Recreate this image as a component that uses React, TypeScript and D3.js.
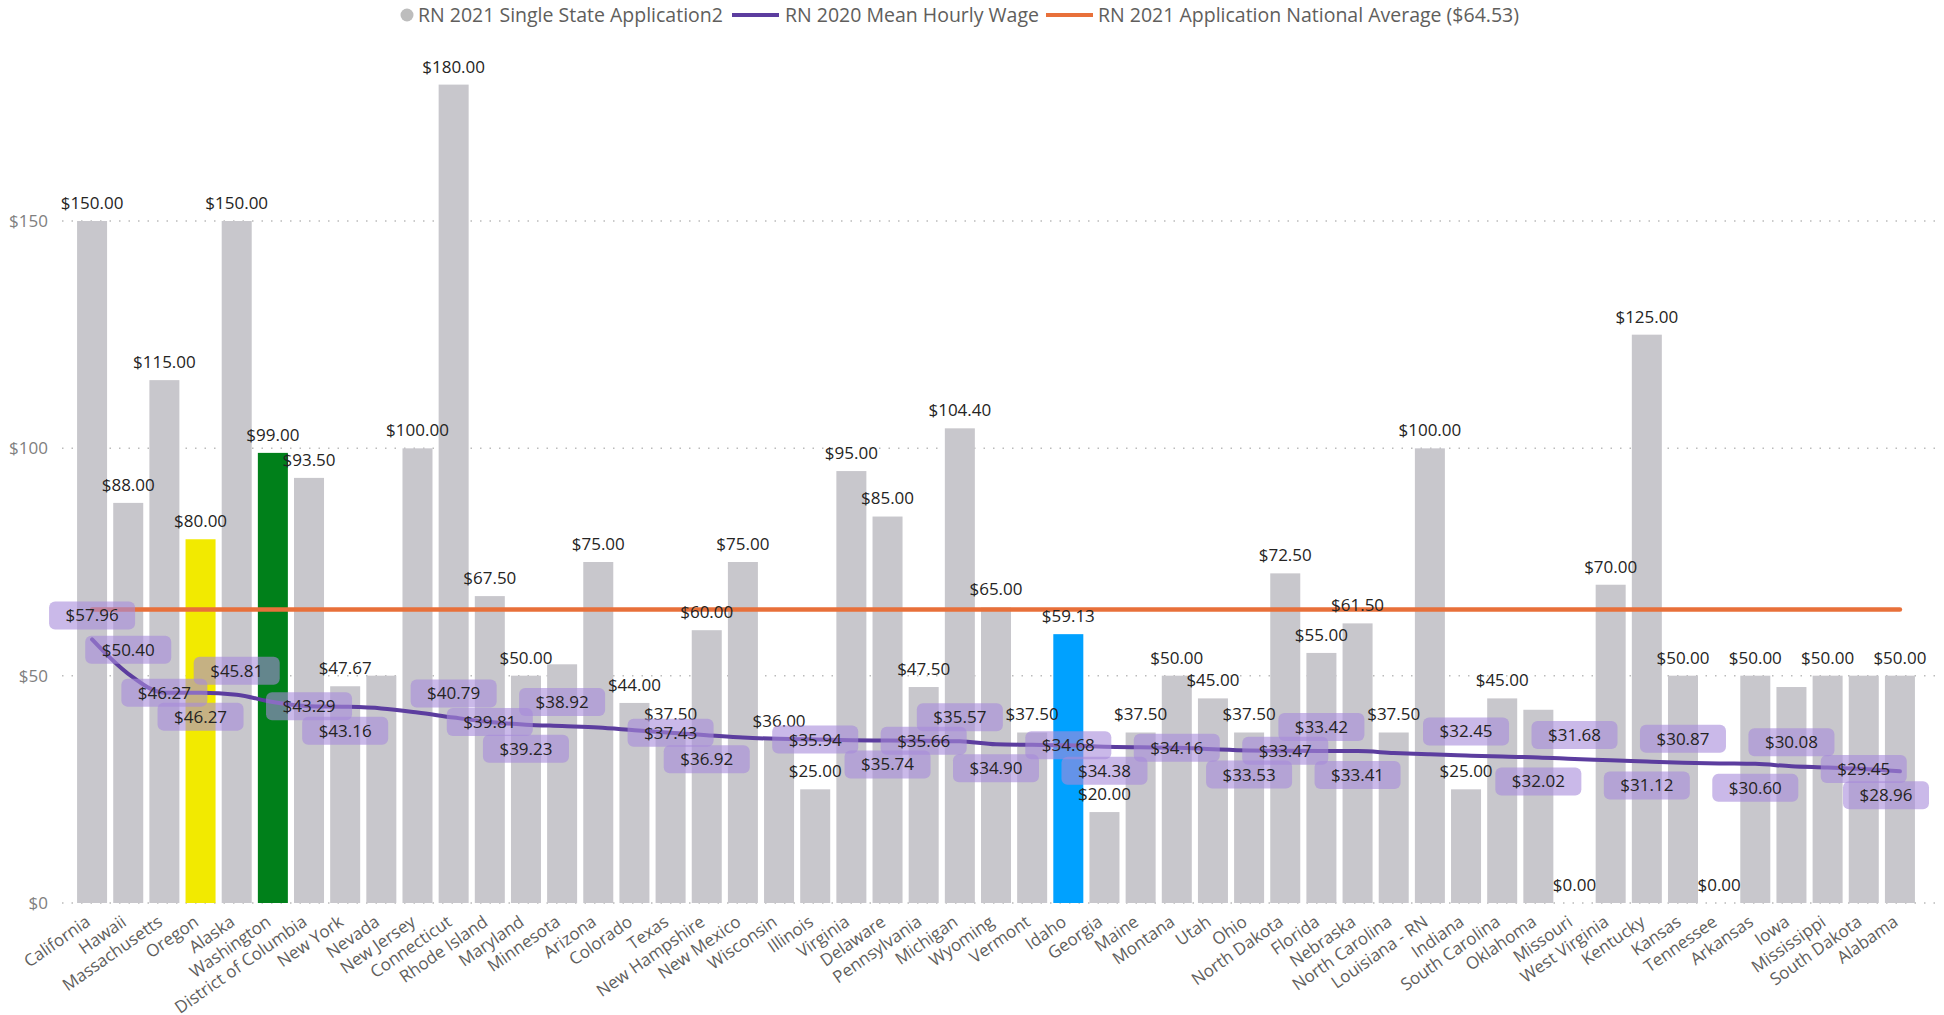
import React from 'react';
import * as d3 from 'd3';

// states, in the chart's order (sorted by 2020 mean hourly wage)
const states = [
  'California', 'Hawaii', 'Massachusetts', 'Oregon', 'Alaska', 'Washington', 'District of Columbia',
  'New York', 'Nevada', 'New Jersey', 'Connecticut', 'Rhode Island', 'Maryland', 'Minnesota',
  'Arizona', 'Colorado', 'Texas', 'New Hampshire', 'New Mexico', 'Wisconsin', 'Illinois',
  'Virginia', 'Delaware', 'Pennsylvania', 'Michigan', 'Wyoming', 'Vermont', 'Idaho', 'Georgia',
  'Maine', 'Montana', 'Utah', 'Ohio', 'North Dakota', 'Florida', 'Nebraska', 'North Carolina',
  'Louisiana - RN', 'Indiana', 'South Carolina', 'Oklahoma', 'Missouri', 'West Virginia',
  'Kentucky', 'Kansas', 'Tennessee', 'Arkansas', 'Iowa', 'Mississippi', 'South Dakota', 'Alabama',
];

// RN 2021 Single State Application2
const applicationFee = [
  150, 88, 115, 80, 150, 99, 93.5,
  47.67, 50, 100, 180, 67.5, 50, 52.5,
  75, 44, 37.5, 60, 75, 36, 25,
  95, 85, 47.5, 104.4, 65, 37.5, 59.13, 20,
  37.5, 50, 45, 37.5, 72.5, 55, 61.5, 37.5,
  100, 25, 45, 42.5, 0, 70,
  125, 50, 0, 50, 47.5, 50, 50, 50,
];

// RN 2020 Mean Hourly Wage
const meanWage = [
  57.96, 50.4, 46.27, 46.27, 45.81, 44.2, 43.29,
  43.16, 42.8, 41.9, 40.79, 39.81, 39.23, 38.92,
  38.6, 38.0, 37.43, 36.92, 36.4, 36.1, 35.94,
  35.8, 35.74, 35.66, 35.57, 34.9, 34.8, 34.68, 34.38,
  34.25, 34.16, 33.8, 33.53, 33.47, 33.42, 33.41, 33.0,
  32.7, 32.45, 32.2, 32.02, 31.68, 31.4,
  31.12, 30.87, 30.7, 30.6, 30.08, 29.8, 29.45, 28.96,
];

const nationalAverage = 64.53;
const yTicks = [0, 50, 100, 150];

const legendItems = [
  'RN 2021 Single State Application2',
  'RN 2020 Mean Hourly Wage',
  `RN 2021 Application National Average ($${nationalAverage})`,
];

// layout / styling
const barColors: Record<string, string> = { Oregon: '#F2EA00', Washington: '#00801A', Idaho: '#00A1FF' };
const hiddenFeeLabels = new Set(['Nevada', 'Minnesota', 'Oklahoma', 'Iowa', 'South Dakota']);
const wageLabelSlot: Record<string, number> = {
  California: -1, Hawaii: -1, Massachusetts: 0, Oregon: 1, Alaska: -1, 'District of Columbia': 0,
  'New York': 1, Connecticut: -1, 'Rhode Island': 0, Maryland: 1, Minnesota: -1, Texas: 0,
  'New Hampshire': 1, Illinois: 0, Delaware: 1, Pennsylvania: 0, Michigan: -1, Wyoming: 1,
  Idaho: 0, Georgia: 1, Montana: 0, Ohio: 1, 'North Dakota': 0, Florida: -1, Nebraska: 1,
  Indiana: -1, Oklahoma: 1, Missouri: -1, Kentucky: 1, Kansas: -1, Arkansas: 1, Iowa: -1,
  'South Dakota': 0, Alabama: 1,
};

const W = 1944, H = 1015;
const FONT = "'Segoe UI', 'Open Sans', sans-serif";
const GRAY = '#C8C7CC';
const PURPLE = '#5C3D9F';
const ORANGE = '#E8703A';
const TEXT = '#252423';

export default function App() {
  const x = d3.scaleBand().domain(states).range([74, 1918]).paddingInner(0.17).paddingOuter(0.085);
  const y = d3.scaleLinear().domain([0, 150]).range([903, 221]);
  const cx = (s: string) => (x(s) as number) + x.bandwidth() / 2;
  const money = d3.format('$,.2f');
  const tickFmt = d3.format('$,.0f');

  const wageLine = d3.line<number>()
    .x((_, i) => cx(states[i]))
    .y(d => y(d))
    .curve(d3.curveMonotoneX);

  const boxW = 86, boxH = 28;

  return (
    <div>
      <style>{`body{margin:0}`}</style>
      <svg width={W} height={H} style={{ display: 'block', fontFamily: FONT }}>
        {/* legend */}
        <g fontSize={19.5} fill="#605E5C">
          <circle cx={407} cy={15} r={6.5} fill="#BDBDBD" />
          <text x={418} y={15} dy="0.35em">{legendItems[0]}</text>
          <line x1={732} x2={779} y1={15} y2={15} stroke={PURPLE} strokeWidth={4} />
          <text x={785} y={15} dy="0.35em">{legendItems[1]}</text>
          <line x1={1046} x2={1093} y1={15} y2={15} stroke={ORANGE} strokeWidth={4} />
          <text x={1098} y={15} dy="0.35em">{legendItems[2]}</text>
        </g>

        {/* grid + y axis */}
        {yTicks.map(t => (
          <g key={t}>
            <line x1={62} x2={1940} y1={y(t)} y2={y(t)} stroke="#BBBBBB" strokeWidth={1.5} strokeDasharray="1.5,8" />
            <text x={48} y={y(t)} dy="0.35em" textAnchor="end" fontSize={17} fill="#808080">{tickFmt(t)}</text>
          </g>
        ))}

        {/* bars */}
        {states.map((s, i) => (
          <rect key={s} x={x(s)} y={y(applicationFee[i])} width={x.bandwidth()}
            height={y(0) - y(applicationFee[i])} fill={barColors[s] || GRAY} />
        ))}

        {/* national average */}
        <line x1={cx(states[0])} x2={cx(states[states.length - 1])}
          y1={y(nationalAverage)} y2={y(nationalAverage)}
          stroke={ORANGE} strokeWidth={4.5} strokeLinecap="round" />

        {/* wage line */}
        <path d={wageLine(meanWage) || ''} fill="none" stroke={PURPLE} strokeWidth={4} strokeLinecap="round" />

        {/* bar value labels */}
        <g fontSize={17} fill={TEXT} textAnchor="middle">
          {states.map((s, i) => hiddenFeeLabels.has(s) ? null : (
            <text key={s} x={cx(s)} y={y(applicationFee[i]) - 18} dy="0.35em">{money(applicationFee[i])}</text>
          ))}
        </g>

        {/* wage labels */}
        <g fontSize={17} fill={TEXT} textAnchor="middle">
          {states.map((s, i) => {
            const slot = wageLabelSlot[s];
            if (slot === undefined) return null;
            const bx = Math.min(Math.max(cx(s), boxW / 2), 1929 - boxW / 2);
            const by = y(meanWage[i]) + slot * 24;
            return (
              <g key={s}>
                <rect x={bx - boxW / 2} y={by - boxH / 2} width={boxW} height={boxH} rx={6}
                  fill="#A68BDB" fillOpacity={0.6} />
                <text x={bx} y={by} dy="0.35em">{money(meanWage[i])}</text>
              </g>
            );
          })}
        </g>

        {/* category labels */}
        <g fontSize={17} fill="#605E5C" textAnchor="end">
          {states.map(s => (
            <text key={s} transform={`translate(${cx(s) - 8},${914}) rotate(-35)`} dy="0.75em">{s}</text>
          ))}
        </g>
      </svg>
    </div>
  );
}
